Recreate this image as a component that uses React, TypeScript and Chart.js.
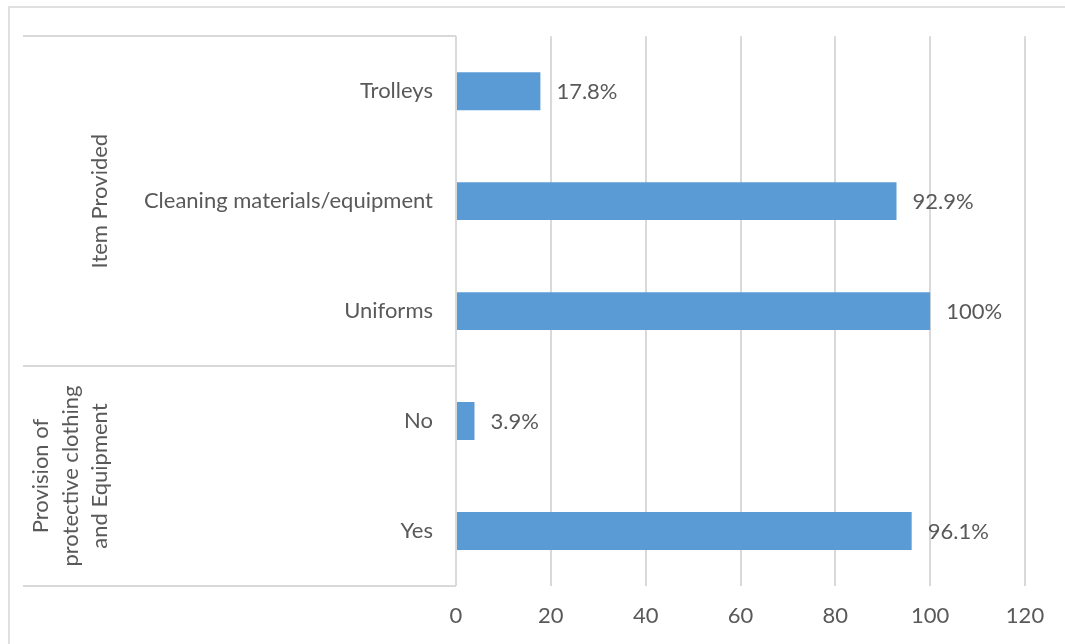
import React, { useEffect, useRef } from 'react';
import { Chart, registerables } from 'chart.js';

Chart.register(...registerables);

const categories: string[] = ['Trolleys', 'Cleaning materials/equipment', 'Uniforms', 'No', 'Yes'];
const values: number[] = [17.8, 92.9, 100, 3.9, 96.1];
const valueLabels: string[] = ['17.8%', '92.9%', '100%', '3.9%', '96.1%'];
const groupLabels: string[][] = [['Item Provided'], ['Provision of', 'protective clothing', 'and Equipment']];
const groupRanges: number[][] = [[0, 2], [3, 4]];
const xMin = 0;
const xMax = 120;
const xStep = 20;

const FONT = 'Lato, "Open Sans", sans-serif';
const TEXT = '#595959';
const GRID = '#d9d9d9';
const FS = 22;

const groupPlugin = {
  id: 'groupPlugin',
  afterDraw(chart: any) {
    const ctx = chart.ctx;
    const y = chart.scales.y;
    const x = chart.scales.x;
    const area = chart.chartArea;
    const band = y.getPixelForValue(1) - y.getPixelForValue(0);
    ctx.save();
    // data labels
    ctx.font = `${FS}px ${FONT}`;
    ctx.fillStyle = TEXT;
    ctx.textAlign = 'left';
    ctx.textBaseline = 'middle';
    values.forEach((v, i) => {
      ctx.fillText(valueLabels[i], x.getPixelForValue(v) + 16, y.getPixelForValue(i) + 1);
    });
    // group separators
    ctx.strokeStyle = GRID;
    ctx.lineWidth = 2;
    const lines: number[] = [];
    groupRanges.forEach((r, gi) => {
      if (gi === 0) lines.push(y.getPixelForValue(r[0]) - band / 2);
      lines.push(y.getPixelForValue(r[1]) + band / 2);
    });
    lines.forEach((ly) => {
      ctx.beginPath();
      ctx.moveTo(23, Math.round(ly));
      ctx.lineTo(area.left, Math.round(ly));
      ctx.stroke();
    });
    // group labels
    groupRanges.forEach((r, gi) => {
      const cy = (y.getPixelForValue(r[0]) + y.getPixelForValue(r[1])) / 2;
      const lbl = groupLabels[gi];
      const n = lbl.length;
      lbl.forEach((t, k) => {
        const cx = 100 - (n - 1 - k) * 29.5;
        ctx.save();
        ctx.translate(cx, cy);
        ctx.rotate(-Math.PI / 2);
        ctx.textAlign = 'center';
        ctx.textBaseline = 'middle';
        ctx.fillText(t, 0, 0);
        ctx.restore();
      });
    });
    ctx.restore();
  },
};

export default function App() {
  const ref = useRef<HTMLCanvasElement | null>(null);
  useEffect(() => {
    document.body.style.margin = '0';
    if (!ref.current) return;
    const chart = new Chart(ref.current, {
      type: 'bar',
      data: {
        labels: categories,
        datasets: [
          {
            data: values,
            backgroundColor: '#5b9bd5',
            borderWidth: 0,
            categoryPercentage: 1,
            barPercentage: 0.345,
          },
        ],
      },
      options: {
        indexAxis: 'y',
        animation: false,
        responsive: false,
        maintainAspectRatio: false,
        layout: { padding: { top: 36, right: 40, left: 0, bottom: 0 } },
        plugins: { legend: { display: false }, tooltip: { enabled: false } },
        scales: {
          x: {
            min: xMin,
            max: xMax,
            ticks: { stepSize: xStep, color: TEXT, font: { family: FONT, size: FS }, padding: 17 },
            grid: { color: GRID, lineWidth: 2, drawTicks: false },
            border: { display: false },
            afterFit(scale: any) {
              scale.height = 58;
            },
          },
          y: {
            ticks: { color: TEXT, font: { family: FONT, size: FS }, padding: 23 },
            grid: { display: false, drawTicks: false },
            border: { display: false },
            afterFit(scale: any) {
              scale.width = 456;
            },
          },
        },
      },
      plugins: [groupPlugin],
    });
    return () => chart.destroy();
  }, []);
  return (
    <div style={{ position: 'relative', width: 1065, height: 644, overflow: 'hidden', background: '#fff' }}>
      <div
        style={{
          position: 'absolute',
          left: 8,
          top: 6,
          width: 1070,
          height: 700,
          border: '2px solid #e0e0e0',
          boxSizing: 'border-box',
        }}
      />
      <canvas ref={ref} width={1065} height={644} style={{ position: 'absolute', left: 0, top: 0 }} />
    </div>
  );
}
